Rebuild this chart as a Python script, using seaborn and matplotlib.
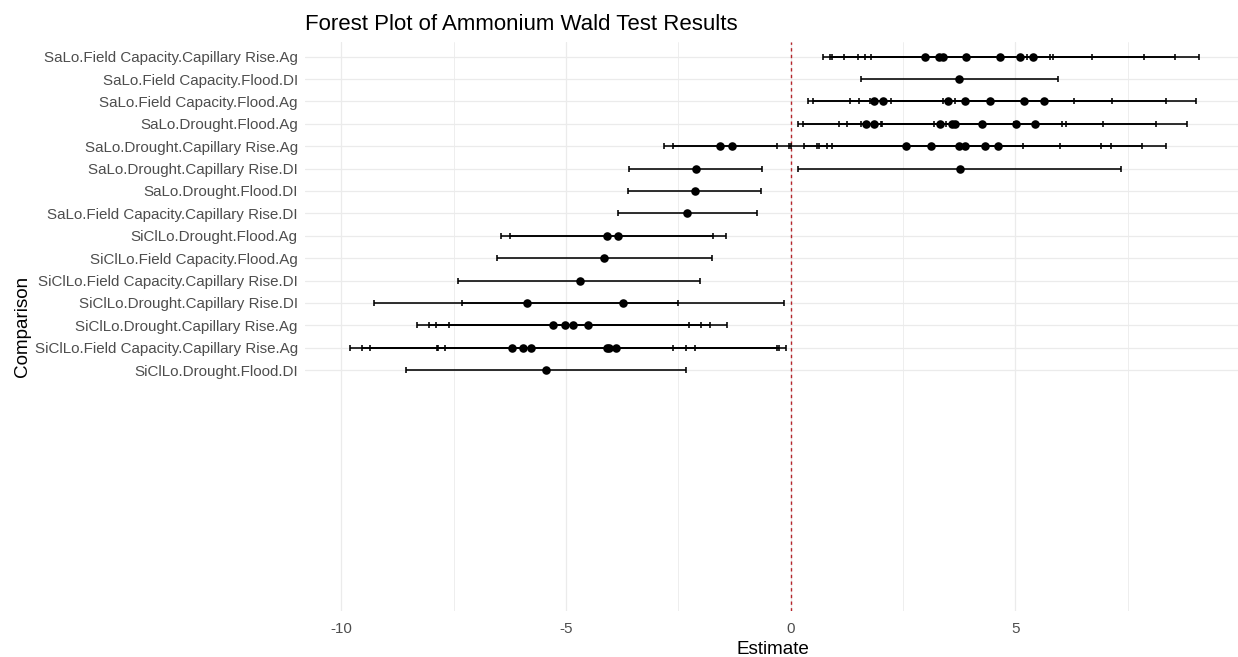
import numpy as np
import pandas as pd
import matplotlib
matplotlib.use("Agg")
import matplotlib.pyplot as plt
import seaborn as sns

# Comparisons, listed top to bottom
comparisons = [
    "SaLo.Field Capacity.Capillary Rise.Ag",
    "SaLo.Field Capacity.Flood.DI",
    "SaLo.Field Capacity.Flood.Ag",
    "SaLo.Drought.Flood.Ag",
    "SaLo.Drought.Capillary Rise.Ag",
    "SaLo.Drought.Capillary Rise.DI",
    "SaLo.Drought.Flood.DI",
    "SaLo.Field Capacity.Capillary Rise.DI",
    "SiClLo.Drought.Flood.Ag",
    "SiClLo.Field Capacity.Flood.Ag",
    "SiClLo.Field Capacity.Capillary Rise.DI",
    "SiClLo.Drought.Capillary Rise.DI",
    "SiClLo.Drought.Capillary Rise.Ag",
    "SiClLo.Field Capacity.Capillary Rise.Ag",
    "SiClLo.Drought.Flood.DI",
]

# Wald test estimates for each comparison
estimates = [
    [2.98, 3.31, 3.38, 3.91, 4.65, 5.10, 5.40],
    [3.75],
    [1.86, 2.05, 3.50, 3.89, 4.43, 5.19, 5.63],
    [1.67, 1.85, 3.33, 3.60, 3.65, 4.26, 5.02, 5.43],
    [-1.57, -1.31, 2.57, 3.13, 3.74, 3.88, 4.33, 4.62],
    [-2.11, 3.77],
    [-2.14],
    [-2.31],
    [-4.09, -3.84],
    [-4.15],
    [-4.70],
    [-5.86, -3.73],
    [-5.28, -5.03, -4.84, -4.51],
    [-6.20, -5.96, -5.77, -4.09, -4.04, -3.89],
    [-5.45],
]

# Lower confidence limits
ci_lower = [
    [0.71, 0.87, 0.91, 1.19, 1.49, 1.66, 1.78],
    [1.56],
    [0.39, 0.50, 1.32, 1.51, 1.77, 2.03, 2.23],
    [0.16, 0.27, 1.70, 1.08, 1.26, 1.56, 2.01, 2.03],
    [-2.82, -2.62, -0.04, 0.30, 0.59, 0.64, 0.80, 0.93],
    [-3.59, 0.16],
    [-3.63],
    [-3.85],
    [-6.45, -6.24],
    [-6.54],
    [-7.40],
    [-9.27, -7.31],
    [-8.31, -8.06, -7.90, -7.60],
    [-9.80, -9.54, -9.37, -7.87, -7.85, -7.70],
    [-8.57],
]

# Upper confidence limits
ci_upper = [
    [5.27, 5.77, 5.83, 6.70, 7.87, 8.56, 9.08],
    [5.94],
    [3.38, 3.65, 5.68, 6.31, 7.15, 8.35, 9.03],
    [3.19, 3.45, 4.96, 6.12, 6.04, 6.96, 8.14, 8.83],
    [-0.30, 0.00, 5.18, 6.00, 6.90, 7.13, 7.82, 8.35],
    [-0.64, 7.35],
    [-0.67],
    [-0.76],
    [-1.72, -1.44],
    [-1.75],
    [-2.01],
    [-2.50, -0.14],
    [-2.26, -2.00, -1.79, -1.42],
    [-2.61, -2.33, -2.14, -0.31, -0.25, -0.10],
    [-2.34],
]

x_ticks = [-10, -5, 0, 5]
x_minor = [-7.5, -2.5, 2.5, 7.5]

# Long-format table: one row per estimate
records = []
for i, name in enumerate(comparisons):
    for e, lo, hi in zip(estimates[i], ci_lower[i], ci_upper[i]):
        records.append({"Comparison": name, "pos": i, "Estimate": e,
                        "lower": lo, "upper": hi})
df = pd.DataFrame(records)

sns.set_theme(style="white")
plt.rcParams["font.family"] = ["Liberation Sans", "DejaVu Sans"]
plt.rcParams["axes.unicode_minus"] = False

W, H = 1238, 657
fig = plt.figure(figsize=(W / 100, H / 100), dpi=100)

x_lo, x_hi = -10.8, 10.0
px_per_unit = 44.93
zero_px = 790.7
left_px = zero_px + x_lo * px_per_unit
right_px = zero_px + x_hi * px_per_unit
top_px, bottom_px = 41.7, 611.0
row0_px, row_step = 56.7, 22.38

ax = fig.add_axes([left_px / W, 1 - bottom_px / H,
                   (right_px - left_px) / W, (bottom_px - top_px) / H])

# Grid
grid_col = "#EBEBEB"
ax.set_xticks(x_ticks)
ax.set_xticks(x_minor, minor=True)
ax.set_yticks(range(len(comparisons)))
ax.set_yticklabels(comparisons)
ax.grid(which="major", axis="both", color=grid_col, linewidth=0.9)
ax.grid(which="minor", axis="x", color=grid_col, linewidth=0.6)
ax.set_axisbelow(True)

# Reference line at zero
ax.axvline(0, color="#B5242A", linestyle=(0, (2.4, 2.4)), linewidth=1.0, zorder=1.5)

# Confidence intervals
ax.errorbar(x=df["Estimate"], y=df["pos"],
            xerr=[df["Estimate"] - df["lower"], df["upper"] - df["Estimate"]],
            fmt="none", ecolor="black", elinewidth=1.15, capsize=1.9,
            capthick=1.15, zorder=2)

# Point estimates
sns.scatterplot(data=df, x="Estimate", y="pos", color="black", s=38,
                linewidth=0, ax=ax, zorder=3, legend=False)

ax.set_xlim(x_lo, x_hi)
ax.set_ylim((bottom_px - row0_px) / row_step, -(row0_px - top_px) / row_step)

for s in ax.spines.values():
    s.set_visible(False)
ax.tick_params(axis="both", which="both", length=0)
ax.tick_params(axis="y", labelsize=10.9, labelcolor="#4D4D4D", pad=5.6)
ax.tick_params(axis="x", labelsize=10.9, labelcolor="#4D4D4D", pad=8.0)
ax.set_xlabel("")
ax.set_ylabel("")

fig.text(left_px / W, 1 - 30 / H, "Forest Plot of Ammonium Wald Test Results",
         ha="left", va="baseline", fontsize=16, color="black")
fig.text((left_px + right_px) / 2 / W, 1 - 654.5 / H, "Estimate",
         ha="center", va="baseline", fontsize=13.6, color="black")
fig.text(26.7 / W, 1 - ((top_px + bottom_px) / 2) / H, "Comparison",
         ha="center", va="baseline", rotation=90, rotation_mode="anchor",
         fontsize=13.6, color="black")

fig.savefig("out.png", dpi=100)
